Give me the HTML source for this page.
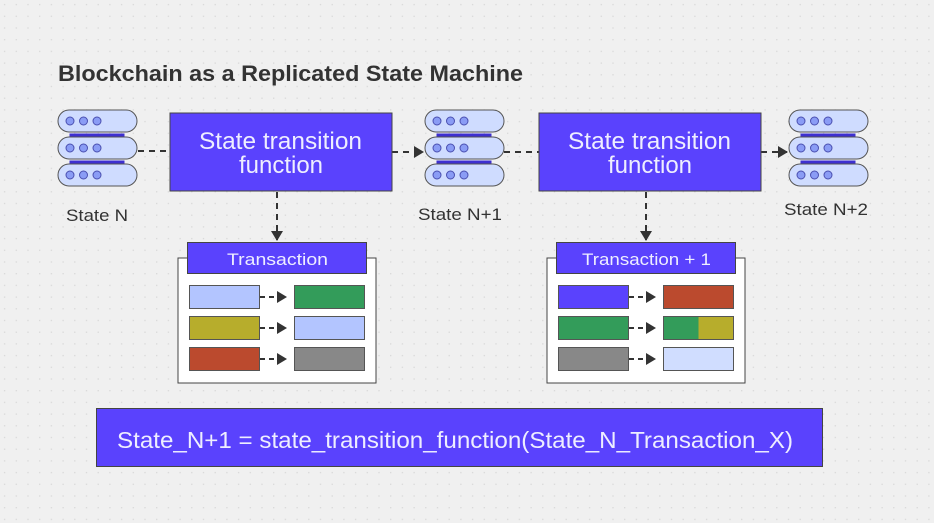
<!DOCTYPE html>
<html><head><meta charset="utf-8"><style>
html,body{margin:0;padding:0;background:#f0f0f0;}
svg{display:block;font-family:"Liberation Sans",sans-serif;}
</style></head><body>
<svg width="934" height="523" viewBox="0 0 934 523" xmlns="http://www.w3.org/2000/svg">
<defs>
<pattern id="dots" x="0" y="0" width="11.7" height="11.7" patternUnits="userSpaceOnUse">
<rect x="4" y="4" width="1.2" height="1.2" fill="#d4d4d4"/>
</pattern>
<marker id="ar" markerWidth="11" markerHeight="12" refX="9" refY="6" orient="auto" markerUnits="userSpaceOnUse">
<path d="M0,0 L10,6 L0,12 z" fill="#333"/>
</marker>
<g id="srv">
<rect x="12" y="24" width="55" height="4" fill="#3d2fd0"/>
<rect x="12" y="51" width="55" height="4" fill="#3d2fd0"/>
<rect x="0.5" y="0.5" width="79" height="22" rx="11" fill="#cfdcff" stroke="#555" stroke-width="1"/>
<rect x="0.5" y="27.5" width="79" height="22" rx="11" fill="#cfdcff" stroke="#555" stroke-width="1"/>
<rect x="0.5" y="54.5" width="79" height="22" rx="11" fill="#cfdcff" stroke="#555" stroke-width="1"/>
<g fill="#8a9cf5" stroke="#4a4fb0" stroke-width="1">
<circle cx="12.5" cy="11.5" r="4"/><circle cx="26" cy="11.5" r="4"/><circle cx="39.5" cy="11.5" r="4"/>
<circle cx="12.5" cy="38.5" r="4"/><circle cx="26" cy="38.5" r="4"/><circle cx="39.5" cy="38.5" r="4"/>
<circle cx="12.5" cy="65.5" r="4"/><circle cx="26" cy="65.5" r="4"/><circle cx="39.5" cy="65.5" r="4"/>
</g>
</g>
</defs>
<rect width="934" height="523" fill="#f0f0f0"/>
<rect width="934" height="523" fill="url(#dots)"/>

<text x="58" y="81" font-size="22" font-weight="bold" fill="#333" textLength="465" lengthAdjust="spacingAndGlyphs">Blockchain as a Replicated State Machine</text>

<use href="#srv" x="57.5" y="109.5"/>
<use href="#srv" x="424.5" y="109.5"/>
<use href="#srv" x="788.5" y="109.5"/>

<text x="66" y="221" font-size="16.5" fill="#333" textLength="62" lengthAdjust="spacingAndGlyphs">State N</text>
<text x="418" y="220" font-size="16.5" fill="#333" textLength="84" lengthAdjust="spacingAndGlyphs">State N+1</text>
<text x="784" y="215" font-size="16.5" fill="#333" textLength="84" lengthAdjust="spacingAndGlyphs">State N+2</text>

<g stroke="#333" stroke-width="2" stroke-dasharray="6,5" fill="none">
<line x1="138" y1="151" x2="170" y2="151"/>
<line x1="392" y1="152" x2="423" y2="152" marker-end="url(#ar)"/>
<line x1="504" y1="152" x2="539" y2="152"/>
<line x1="761" y1="152" x2="787" y2="152" marker-end="url(#ar)"/>
<line x1="277" y1="192" x2="277" y2="240" marker-end="url(#ar)"/>
<line x1="646" y1="192" x2="646" y2="240" marker-end="url(#ar)"/>
</g>

<rect x="170" y="113" width="222" height="78" fill="#5a42fd" stroke="#444" stroke-width="1"/>
<text x="199" y="149" font-size="24" fill="#eef" textLength="163" lengthAdjust="spacingAndGlyphs">State transition</text>
<text x="281" y="173" font-size="24" fill="#eef" text-anchor="middle">function</text>
<rect x="539" y="113" width="222" height="78" fill="#5a42fd" stroke="#444" stroke-width="1"/>
<text x="568" y="149" font-size="24" fill="#eef" textLength="163" lengthAdjust="spacingAndGlyphs">State transition</text>
<text x="650" y="173" font-size="24" fill="#eef" text-anchor="middle">function</text>

<!-- panel 1 -->
<rect x="178" y="258" width="198" height="125" fill="#fff" stroke="#444" stroke-width="1"/>
<rect x="187.5" y="242.5" width="179" height="31" fill="#5a42fd" stroke="#444" stroke-width="1"/>
<text x="227" y="265" font-size="17" fill="#eef" textLength="101" lengthAdjust="spacingAndGlyphs">Transaction</text>
<g stroke="#555" stroke-width="1">
<rect x="189.5" y="285.5" width="70" height="23" fill="#b3c5ff"/>
<rect x="294.5" y="285.5" width="70" height="23" fill="#339c5a"/>
<rect x="189.5" y="316.5" width="70" height="23" fill="#b7ad2c"/>
<rect x="294.5" y="316.5" width="70" height="23" fill="#b3c5ff"/>
<rect x="189.5" y="347.5" width="70" height="23" fill="#bb4a2e"/>
<rect x="294.5" y="347.5" width="70" height="23" fill="#888"/>
</g>
<!-- panel 2 -->
<rect x="547" y="258" width="198" height="125" fill="#fff" stroke="#444" stroke-width="1"/>
<rect x="556.5" y="242.5" width="179" height="31" fill="#5a42fd" stroke="#444" stroke-width="1"/>
<text x="582" y="265" font-size="17" fill="#eef" textLength="129" lengthAdjust="spacingAndGlyphs">Transaction + 1</text>
<g stroke="#555" stroke-width="1">
<rect x="558.5" y="285.5" width="70" height="23" fill="#5a42fd"/>
<rect x="663.5" y="285.5" width="70" height="23" fill="#bb4a2e"/>
<rect x="558.5" y="316.5" width="70" height="23" fill="#339c5a"/>
<rect x="663.5" y="316.5" width="35" height="23" fill="#339c5a" stroke="none"/>
<rect x="698.5" y="316.5" width="35" height="23" fill="#b7ad2c" stroke="none"/>
<rect x="663.5" y="316.5" width="70" height="23" fill="none"/>
<rect x="558.5" y="347.5" width="70" height="23" fill="#888"/>
<rect x="663.5" y="347.5" width="70" height="23" fill="#d0ddff"/>
</g>
<g stroke="#333" stroke-width="2" stroke-dasharray="5,4">
<line x1="260" y1="297" x2="286" y2="297" marker-end="url(#ar)"/>
<line x1="260" y1="328" x2="286" y2="328" marker-end="url(#ar)"/>
<line x1="260" y1="359" x2="286" y2="359" marker-end="url(#ar)"/>
<line x1="629" y1="297" x2="655" y2="297" marker-end="url(#ar)"/>
<line x1="629" y1="328" x2="655" y2="328" marker-end="url(#ar)"/>
<line x1="629" y1="359" x2="655" y2="359" marker-end="url(#ar)"/>
</g>

<rect x="96.5" y="408.5" width="726" height="58" fill="#5a42fd" stroke="#444" stroke-width="1"/>
<text x="117" y="448" font-size="23" fill="#eef" textLength="676" lengthAdjust="spacingAndGlyphs">State_N+1 = state_transition_function(State_N_Transaction_X)</text>
</svg>
</body></html>
